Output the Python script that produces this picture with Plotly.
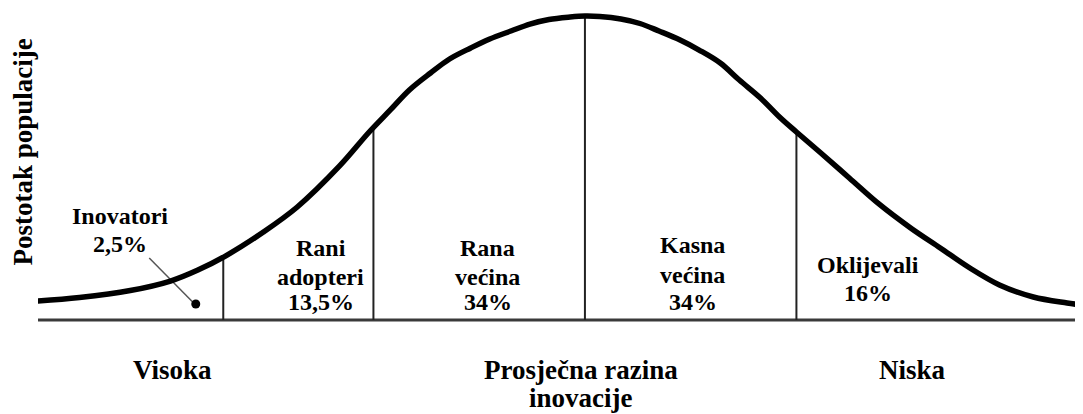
import numpy as np
import plotly.graph_objects as go

# Innovation level (in standard deviations from the mean) and share of population
curve_x = [-2.59, -2.39, -2.15, -1.96, -1.83, -1.70, -1.52, -1.36, -1.16, -1.02,
           -0.92, -0.83, -0.73, -0.64, -0.54, -0.45, -0.35, -0.26, -0.17, -0.07, 0.00,
           0.07, 0.17, 0.26, 0.35, 0.45, 0.54, 0.64, 0.73, 0.83, 0.92, 1.00, 1.11,
           1.25, 1.39, 1.54, 1.68, 1.82, 1.96, 2.12, 2.28, 2.35]
curve_y = [2.50, 2.96, 3.88, 5.13, 6.58, 8.42, 11.58, 14.87, 20.27, 24.74,
           27.64, 30.27, 32.51, 34.35, 35.80, 36.98, 38.03, 38.95, 39.55, 39.87, 40.00,
           39.94, 39.61, 39.02, 38.03, 36.85, 35.53, 33.82, 31.58, 29.22, 26.71, 24.74, 22.11,
           18.69, 15.27, 12.11, 9.48, 6.84, 4.61, 3.03, 2.24, 1.97]

# Category boundaries (std devs)
boundaries = [-1.71, -1.00, 0.00, 1.00]

# Segment labels: lines, x centre, y of each line
seg_lines = [["Inovatori", "2,5%"], ["Rani", "adopteri", "13,5%"], ["Rana", "većina", "34%"],
             ["Kasna", "većina", "34%"], ["Oklijevali", "16%"]]
seg_x = [-2.20, -1.25, -0.46, 0.51, 1.34]
seg_y = [[13.7, 10.0], [9.5, 5.7, 2.4], [9.5, 5.7, 2.4], [9.9, 5.9, 2.4], [7.2, 3.6]]

# Pointer for innovators
pointer_x = [-2.06, -1.85]
pointer_y = [8.16, 2.24]
dot_x = [-1.84]
dot_y = [2.1]

# Bottom scale labels
scale_lines = [["Visoka"], ["Prosječna razina", "inovacije"], ["Niska"]]
scale_x = [-1.95, -0.02, 1.55]
scale_y = [[-6.6], [-6.6, -10.2], [-6.6]]

y_title = "Postotak populacije"

FONT = "Liberation Serif, Times New Roman, serif"
Y_RANGE = [-1.316, 41.06]
X_RANGE = [-2.586, 2.355]

fig = go.Figure()

# Baseline
fig.add_trace(go.Scatter(x=[curve_x[0], curve_x[-1]], y=[0, 0], mode="lines",
                         line=dict(color="#3a3a3a", width=3), hoverinfo="skip"))

# Dividers
for b in boundaries:
    top = float(np.interp(b, curve_x, curve_y))
    fig.add_trace(go.Scatter(x=[b, b], y=[0, top], mode="lines",
                             line=dict(color="#222222", width=2), hoverinfo="skip"))

# Pointer
fig.add_trace(go.Scatter(x=pointer_x, y=pointer_y, mode="lines",
                         line=dict(color="#555555", width=1.5), hoverinfo="skip"))
fig.add_trace(go.Scatter(x=dot_x, y=dot_y, mode="markers",
                         marker=dict(color="black", size=9), hoverinfo="skip"))

# Bell curve
fig.add_trace(go.Scatter(x=curve_x, y=curve_y, mode="lines",
                         line=dict(color="black", width=5.5, shape="spline", smoothing=1.0),
                         hoverinfo="skip"))

annotations = []
for lines, x, ys in zip(seg_lines, seg_x, seg_y):
    for t, y in zip(lines, ys):
        annotations.append(dict(x=x, y=y, xref="x", yref="y", text=t, showarrow=False,
                                xanchor="center", yanchor="middle",
                                font=dict(family=FONT, size=24, color="black", weight="bold")))


def to_paper(y):
    return (y - Y_RANGE[0]) / (Y_RANGE[1] - Y_RANGE[0])


for lines, x, ys in zip(scale_lines, scale_x, scale_y):
    for t, y in zip(lines, ys):
        annotations.append(dict(x=x, y=to_paper(y), xref="x", yref="paper", text=t,
                                showarrow=False, xanchor="center", yanchor="middle",
                                font=dict(family=FONT, size=27, color="black", weight="bold")))
annotations.append(dict(x=-0.0148, y=0.553, xref="paper", yref="paper", text=y_title,
                        showarrow=False, textangle=-90, xanchor="center", yanchor="middle",
                        borderpad=0,
                        font=dict(family=FONT, size=27, color="black", weight="bold")))

fig.update_layout(
    width=1075, height=406,
    margin=dict(l=30, r=0, t=0, b=84),
    paper_bgcolor="white", plot_bgcolor="white",
    showlegend=False,
    xaxis=dict(range=X_RANGE, visible=False, fixedrange=True),
    yaxis=dict(range=Y_RANGE, visible=False, fixedrange=True),
    annotations=annotations,
)

fig.write_html("out.html")
